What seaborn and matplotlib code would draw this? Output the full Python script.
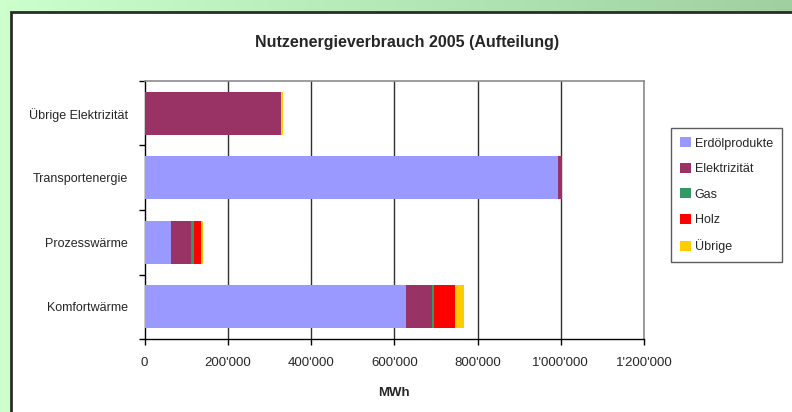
import numpy as np
import pandas as pd
import matplotlib
matplotlib.use("Agg")
import matplotlib.pyplot as plt
import matplotlib.patches as mpatches
from matplotlib.ticker import FuncFormatter, FixedLocator
import seaborn as sns

# Data (MWh)
categories = ["Übrige Elektrizität", "Transportenergie", "Prozesswärme", "Komfortwärme"]
erdoel = [0, 993000, 64000, 629000]
elektrizitaet = [328000, 9000, 48000, 62000]
gas = [0, 0, 6000, 5000]
holz = [0, 0, 17000, 49000]
uebrige = [5000, 0, 5000, 22000]

sources = ["Erdölprodukte", "Elektrizität", "Gas", "Holz", "Übrige"]
colors = ["#9999FF", "#993366", "#339966", "#FF0000", "#FFCC00"]
xticks = [0, 200000, 400000, 600000, 800000, 1000000, 1200000]

df = pd.DataFrame({"Kategorie": categories, "Erdölprodukte": erdoel,
                   "Elektrizität": elektrizitaet, "Gas": gas, "Holz": holz,
                   "Übrige": uebrige})
cum = df[sources].cumsum(axis=1)

sns.set_style("white")
plt.rcParams["font.family"] = ["Liberation Sans", "DejaVu Sans"]

W, H = 792, 412
fig = plt.figure(figsize=(W / 100, H / 100), dpi=100)

# green gradient background
bg = fig.add_axes([0, 0, 1, 1], zorder=-10)
grad = np.linspace(0, 1, 256)
c0 = np.array([204, 255, 204]) / 255
c1 = np.array([160, 208, 160]) / 255
img = c0[None, :] * (1 - grad[:, None]) + c1[None, :] * grad[:, None]
bg.imshow(img[None, :, :], aspect="auto", extent=[0, 1, 0, 1])
bg.set_axis_off()

# white chart panel with dark border
fig.patches.append(mpatches.Rectangle((11 / W, -0.01), 1.0, 1 - 12 / H + 0.01,
                                      transform=fig.transFigure, facecolor="white",
                                      edgecolor="#2b2b2b", linewidth=2, zorder=-5))

ax = fig.add_axes([144.5 / W, 1 - 339 / H, (644 - 144.5) / W, (339 - 81) / H])
ax.set_facecolor("white")

# stacked bars: draw cumulative totals, largest first
for src, col in reversed(list(zip(sources, colors))):
    sns.barplot(x=cum[src], y=df["Kategorie"], order=categories, orient="h",
                color=col, width=0.67, saturation=1, linewidth=0, edgecolor="none",
                ax=ax, zorder=3)

ax.set_xlim(0, 1200000)
ax.set_ylim(3.5, -0.5)
ax.xaxis.set_major_locator(FixedLocator(xticks))
ax.xaxis.set_major_formatter(FuncFormatter(lambda v, p: f"{int(v):,}".replace(",", "'")))
for x in xticks[1:]:
    ax.axvline(x, color="#303030", linewidth=1, zorder=1)

for side in ["top", "right"]:
    ax.spines[side].set_color("#8c8c8c")
    ax.spines[side].set_linewidth(1.2)
for side in ["left", "bottom"]:
    ax.spines[side].set_color("black")
    ax.spines[side].set_linewidth(1)

ax.set_yticks(np.arange(-0.5, 4, 1), minor=True)
ax.tick_params(axis="y", which="minor", length=4, width=1, color="black", direction="out", left=True)
ax.tick_params(axis="y", which="major", length=0, pad=12, labelsize=9)
ax.tick_params(axis="x", which="major", length=4, width=1, color="black", direction="out",
               bottom=True, pad=9, labelsize=9.5)

ax.set_ylabel("")
ax.set_xlabel("MWh", fontsize=9.5, fontweight="bold", labelpad=13)

fig.text(407 / W, 1 - 42 / H, "Nutzenergieverbrauch 2005 (Aufteilung)",
         ha="center", va="center", fontsize=11.5, fontweight="bold")

handles = [mpatches.Patch(facecolor=c, edgecolor="none", label=s) for s, c in zip(sources, colors)]
leg = fig.legend(handles=handles, loc="upper left", bbox_to_anchor=(671 / W, 1 - 128 / H),
                 frameon=True, fancybox=False, fontsize=9, labelspacing=1.05,
                 handlelength=0.85, handleheight=0.85, handletextpad=0.3,
                 borderpad=0.75, borderaxespad=0)
leg.get_frame().set_edgecolor("#333333")
leg.get_frame().set_linewidth(1)

fig.savefig("out.png", dpi=100)
